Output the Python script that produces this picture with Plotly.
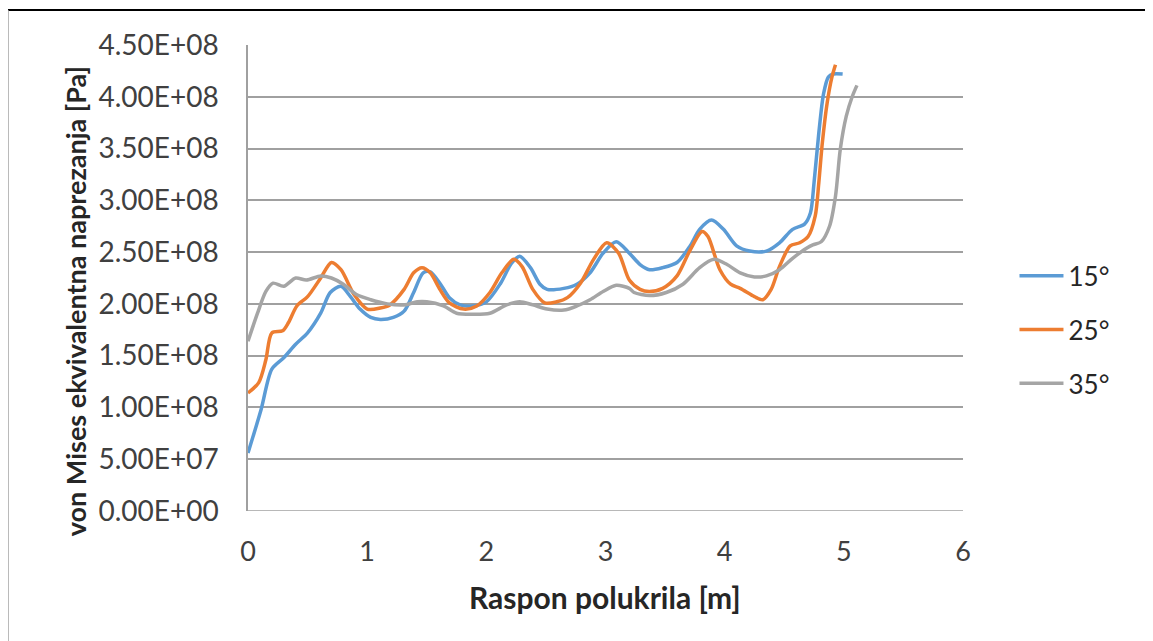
import plotly.graph_objects as go

# Data
x15 = [0.0, 0.11, 0.2, 0.3, 0.4, 0.5, 0.61, 0.69, 0.78, 0.86, 0.94, 1.03, 1.11, 1.22, 1.31, 1.39, 1.47,
       1.53, 1.61, 1.69, 1.78, 1.89, 2.0, 2.12, 2.21, 2.28, 2.37, 2.45, 2.51, 2.65, 2.76, 2.87, 2.98,
       3.09, 3.2, 3.29, 3.37, 3.48, 3.6, 3.71, 3.79, 3.89, 3.99, 4.1, 4.21, 4.35, 4.46, 4.57, 4.67,
       4.72, 4.75, 4.79, 4.83, 4.87, 4.91, 4.99]
y15 = [5.6e7, 9.8e7, 1.37e8, 1.48e8, 1.61e8, 1.72e8, 1.91e8, 2.11e8, 2.17e8, 2.07e8, 1.95e8, 1.87e8, 1.85e8, 1.87e8, 1.93e8, 2.11e8, 2.30e8,
       2.31e8, 2.20e8, 2.06e8, 1.99e8, 1.98e8, 2.02e8, 2.20e8, 2.39e8, 2.46e8, 2.35e8, 2.19e8, 2.14e8, 2.15e8, 2.19e8, 2.30e8, 2.49e8,
       2.60e8, 2.49e8, 2.38e8, 2.33e8, 2.35e8, 2.40e8, 2.56e8, 2.72e8, 2.81e8, 2.72e8, 2.56e8, 2.51e8, 2.51e8, 2.59e8, 2.72e8, 2.77e8,
       2.88e8, 3.17e8, 3.65e8, 4.03e8, 4.19e8, 4.22e8, 4.22e8]

x25 = [0.0, 0.09, 0.15, 0.2, 0.29, 0.34, 0.41, 0.5, 0.61, 0.7, 0.78, 0.89, 1.0, 1.11, 1.19, 1.31, 1.39, 1.46,
       1.53, 1.61, 1.69, 1.81, 1.92, 2.03, 2.13, 2.23, 2.3, 2.39, 2.49, 2.59, 2.68, 2.79, 2.9, 3.01, 3.11,
       3.2, 3.29, 3.37, 3.48, 3.6, 3.71, 3.81, 3.86, 3.96, 4.05, 4.13, 4.25, 4.32, 4.39, 4.46, 4.55, 4.63,
       4.7, 4.76, 4.79, 4.82, 4.86, 4.9, 4.93]
y25 = [1.14e8, 1.24e8, 1.46e8, 1.72e8, 1.74e8, 1.82e8, 1.98e8, 2.07e8, 2.25e8, 2.40e8, 2.33e8, 2.09e8, 1.95e8, 1.96e8, 1.99e8, 2.14e8, 2.30e8, 2.35e8,
       2.30e8, 2.14e8, 2.01e8, 1.95e8, 1.98e8, 2.11e8, 2.30e8, 2.43e8, 2.36e8, 2.14e8, 2.01e8, 2.02e8, 2.06e8, 2.20e8, 2.43e8, 2.59e8, 2.49e8,
       2.23e8, 2.14e8, 2.12e8, 2.15e8, 2.27e8, 2.52e8, 2.70e8, 2.65e8, 2.33e8, 2.19e8, 2.15e8, 2.07e8, 2.04e8, 2.14e8, 2.36e8, 2.56e8, 2.59e8,
       2.65e8, 2.85e8, 3.17e8, 3.56e8, 3.94e8, 4.19e8, 4.31e8]

x35 = [0.0, 0.08, 0.15, 0.21, 0.3, 0.4, 0.49, 0.61, 0.7, 0.8, 0.91, 1.03, 1.17, 1.31, 1.42, 1.5,
       1.64, 1.75, 1.89, 2.03, 2.17, 2.28, 2.39, 2.51, 2.65, 2.76, 2.87, 2.98, 3.09, 3.2,
       3.24, 3.37, 3.51, 3.65, 3.79, 3.91, 4.02, 4.13, 4.25, 4.35, 4.46, 4.57, 4.69, 4.74, 4.81,
       4.88, 4.93, 4.97, 5.02, 5.07, 5.11]
y35 = [1.64e8, 1.91e8, 2.12e8, 2.20e8, 2.17e8, 2.25e8, 2.23e8, 2.27e8, 2.25e8, 2.19e8, 2.09e8, 2.04e8, 2.00e8, 1.99e8, 2.02e8, 2.02e8,
       1.98e8, 1.91e8, 1.90e8, 1.91e8, 1.99e8, 2.02e8, 1.99e8, 1.95e8, 1.94e8, 1.98e8, 2.04e8, 2.12e8, 2.18e8, 2.15e8,
       2.11e8, 2.08e8, 2.11e8, 2.19e8, 2.35e8, 2.43e8, 2.38e8, 2.30e8, 2.26e8, 2.27e8, 2.33e8, 2.44e8, 2.54e8, 2.57e8, 2.60e8,
       2.75e8, 3.04e8, 3.49e8, 3.81e8, 4.00e8, 4.11e8]

series_names = ["15°", "25°", "35°"]
colors = ["#5B9BD5", "#ED7D31", "#A5A5A5"]

y_ticks = [0, 5e7, 1e8, 1.5e8, 2e8, 2.5e8, 3e8, 3.5e8, 4e8, 4.5e8]
y_tick_labels = ["0.00E+00", "5.00E+07", "1.00E+08", "1.50E+08", "2.00E+08",
                 "2.50E+08", "3.00E+08", "3.50E+08", "4.00E+08", "4.50E+08"]
x_ticks = [0, 1, 2, 3, 4, 5, 6]

FONT = "Lato"

fig = go.Figure()
for name, xs, ys, c in zip(series_names, [x15, x25, x35], [y15, y25, y35], colors):
    fig.add_trace(go.Scatter(x=xs, y=ys, mode="lines", name=name, legendgroup=name,
                             line=dict(color=c, width=3.5, shape="spline", smoothing=0.8)))

fig.update_layout(
    width=1153, height=641,
    margin=dict(l=240, r=198, t=37, b=138),
    paper_bgcolor="white", plot_bgcolor="white",
    font=dict(family=FONT, size=27, color="#262626"),
    showlegend=True,
    legend=dict(x=1.072, y=0.555, xanchor="left", yanchor="top",
                font=dict(size=26, color="#262626"), tracegroupgap=17,
                bgcolor="rgba(0,0,0,0)", itemwidth=44),
    xaxis=dict(range=[0, 6], tickvals=x_ticks, showgrid=False, zeroline=False,
               showline=False, ticks="outside", ticklen=17, tickcolor="rgba(0,0,0,0)",
               tickfont=dict(size=27, color="#404040")),
    yaxis=dict(range=[0, 4.5e8], tickvals=y_ticks, ticktext=y_tick_labels,
               showgrid=True, gridcolor="#A0A0A0", gridwidth=1.5, zeroline=False,
               showline=True, linecolor="#A0A0A0", linewidth=1.5,
               ticks="outside", ticklen=22, tickcolor="rgba(0,0,0,0)",
               tickfont=dict(size=28, color="#404040")),
    annotations=[
        dict(text="<b>von Mises ekvivalentna naprezanja [Pa]</b>", xref="paper", yref="paper",
             x=-0.242, y=0.45, textangle=-90, showarrow=False, xanchor="center", yanchor="middle",
             font=dict(size=27, color="#262626")),
        dict(text="<b>Raspon polukrila [m]</b>", xref="paper", yref="paper",
             x=0.499, y=-0.1845, showarrow=False, xanchor="center", yanchor="middle",
             font=dict(size=30, color="#262626")),
    ],
    shapes=[
        # bottom axis line (y = 0)
        dict(type="line", xref="paper", yref="y", x0=0, x1=1, y0=0, y1=0,
             line=dict(color="#A0A0A0", width=1.5)),
        # page frame: top rule and left border
        dict(type="line", xref="paper", yref="paper", x0=-0.345, x1=1.3, y0=1.0751, y1=1.0751,
             line=dict(color="black", width=2)),
        dict(type="line", xref="paper", yref="paper", x0=-0.3357, x1=-0.3357, y0=1.0751, y1=-0.3,
             line=dict(color="#A0A0A0", width=1.5)),
    ],
)

fig.write_html("out.html")
